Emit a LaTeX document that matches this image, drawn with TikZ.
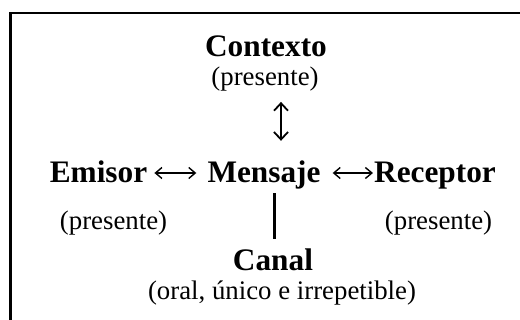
\documentclass[tikz,border=0pt]{standalone}
\usepackage{fontspec}
\setmainfont{Liberation Serif}
\usetikzlibrary{arrows.meta}
\tikzset{
  big/.style={font=\fontsize{31.3}{34}\selectfont\bfseries, inner sep=0pt, anchor=base, text height=20pt, text depth=0pt},
  small/.style={font=\fontsize{26.8}{30}\selectfont, inner sep=0pt, anchor=base},
  dbl/.style={{Straight Barb[length=6.5pt,width=11pt]}-{Straight Barb[length=6.5pt,width=11pt]}, line width=1.4pt},
  vdbl/.style={{Straight Barb[length=7.5pt,width=14pt]}-{Straight Barb[length=7.5pt,width=14pt]}, line width=1.8pt},
  bar/.style={line width=3pt}
}
\begin{document}
\begin{tikzpicture}[x=1pt,y=-1pt]
\useasboundingbox (0,0) rectangle (520,320);
\clip (0,0) rectangle (520,320);
\draw[line width=2.2pt] (10.5,13) rectangle (540,340);
\node[big] (ctx) at (266,57) {Contexto};
\node[small] (ctxsub) at (265,86) {(presente)};
\node[big] (emi) at (98.5,183) {Emisor};
\node[big] (men) at (264,183) {Mensaje};
\node[big] (rec) at (435,183) {Receptor};
\node[small] (emisub) at (113.5,230) {(presente)};
\node[small] (recsub) at (438.5,230) {(presente)};
\node[big] (can) at (273,271) {Canal};
\node[small] (cansub) at (282,300) {(oral, único e irrepetible)};
\draw[dbl] ([xshift=7pt]emi.east) -- ([xshift=-11pt]men.west);
\draw[dbl] ([xshift=12pt]men.east) -- ([xshift=-1pt]rec.west);
\draw[vdbl] ([xshift=16pt,yshift=-10pt]ctxsub.south) -- ([xshift=17pt,yshift=22pt]men.north);
\draw[bar] ([xshift=10pt,yshift=-10pt]men.south) -- ([xshift=1pt,yshift=12pt]can.north);
\end{tikzpicture}
\end{document}
